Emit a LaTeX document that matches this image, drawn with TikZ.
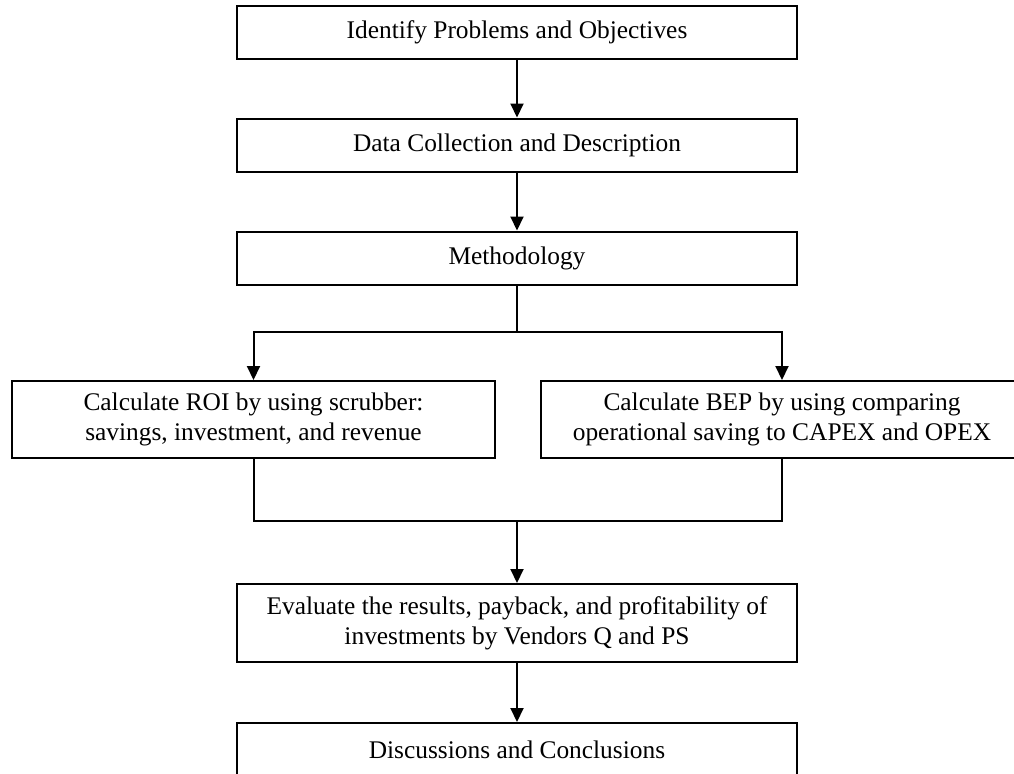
\documentclass[tikz,border=0pt]{standalone}
\usepackage{fontspec}
\setmainfont{Liberation Serif}
\usetikzlibrary{arrows.meta}

\tikzset{
  stepbox/.style={draw, line width=1pt, inner sep=0pt, align=center,
                  minimum width=280pt, minimum height=26.5pt},
  sidebox/.style={stepbox, minimum width=241.5pt, minimum height=38.5pt},
  flow/.style={line width=1pt, -{Triangle[length=7pt,width=6.5pt]}},
  link/.style={line width=1pt}
}

\begin{document}
\begin{tikzpicture}[x=0.5pt,y=-0.5pt,font=\fontsize{12.7}{15}\selectfont]
  \useasboundingbox (0,0) rectangle (1014,773);
  \node[stepbox] (ident) at (517, 32.5) {Identify Problems and Objectives};
  \node[stepbox] (data)  at (517,145.0) {Data Collection and Description};
  \node[stepbox] (meth)  at (517,258.0) {Methodology};
  \node[sidebox] (roi)   at (253.5,419.5) {Calculate ROI by using scrubber:\\savings, investment, and revenue};
  \node[sidebox] (bep)   at (782.0,419.5) {Calculate BEP by using comparing\\operational saving to CAPEX and OPEX};
  \node[stepbox, minimum height=39pt] (eval) at (517,623.0) {Evaluate the results, payback, and profitability of\\investments by Vendors Q and PS};
  \node[stepbox] (disc)  at (517,749.5) {Discussions and Conclusions};
  \coordinate (split) at (517,332);
  \coordinate (join)  at (517,521);
  \draw[flow] (ident) -- (data);
  \draw[flow] (data) -- (meth);
  \draw[link] (meth) -- (split);
  \draw[flow] (split) -| (roi.north);
  \draw[flow] (split) -| (bep.north);
  \draw[link] (roi.south) |- (join) -| (bep.south);
  \draw[flow] (join) -- (eval);
  \draw[flow] (eval) -- (disc);
\end{tikzpicture}
\end{document}
